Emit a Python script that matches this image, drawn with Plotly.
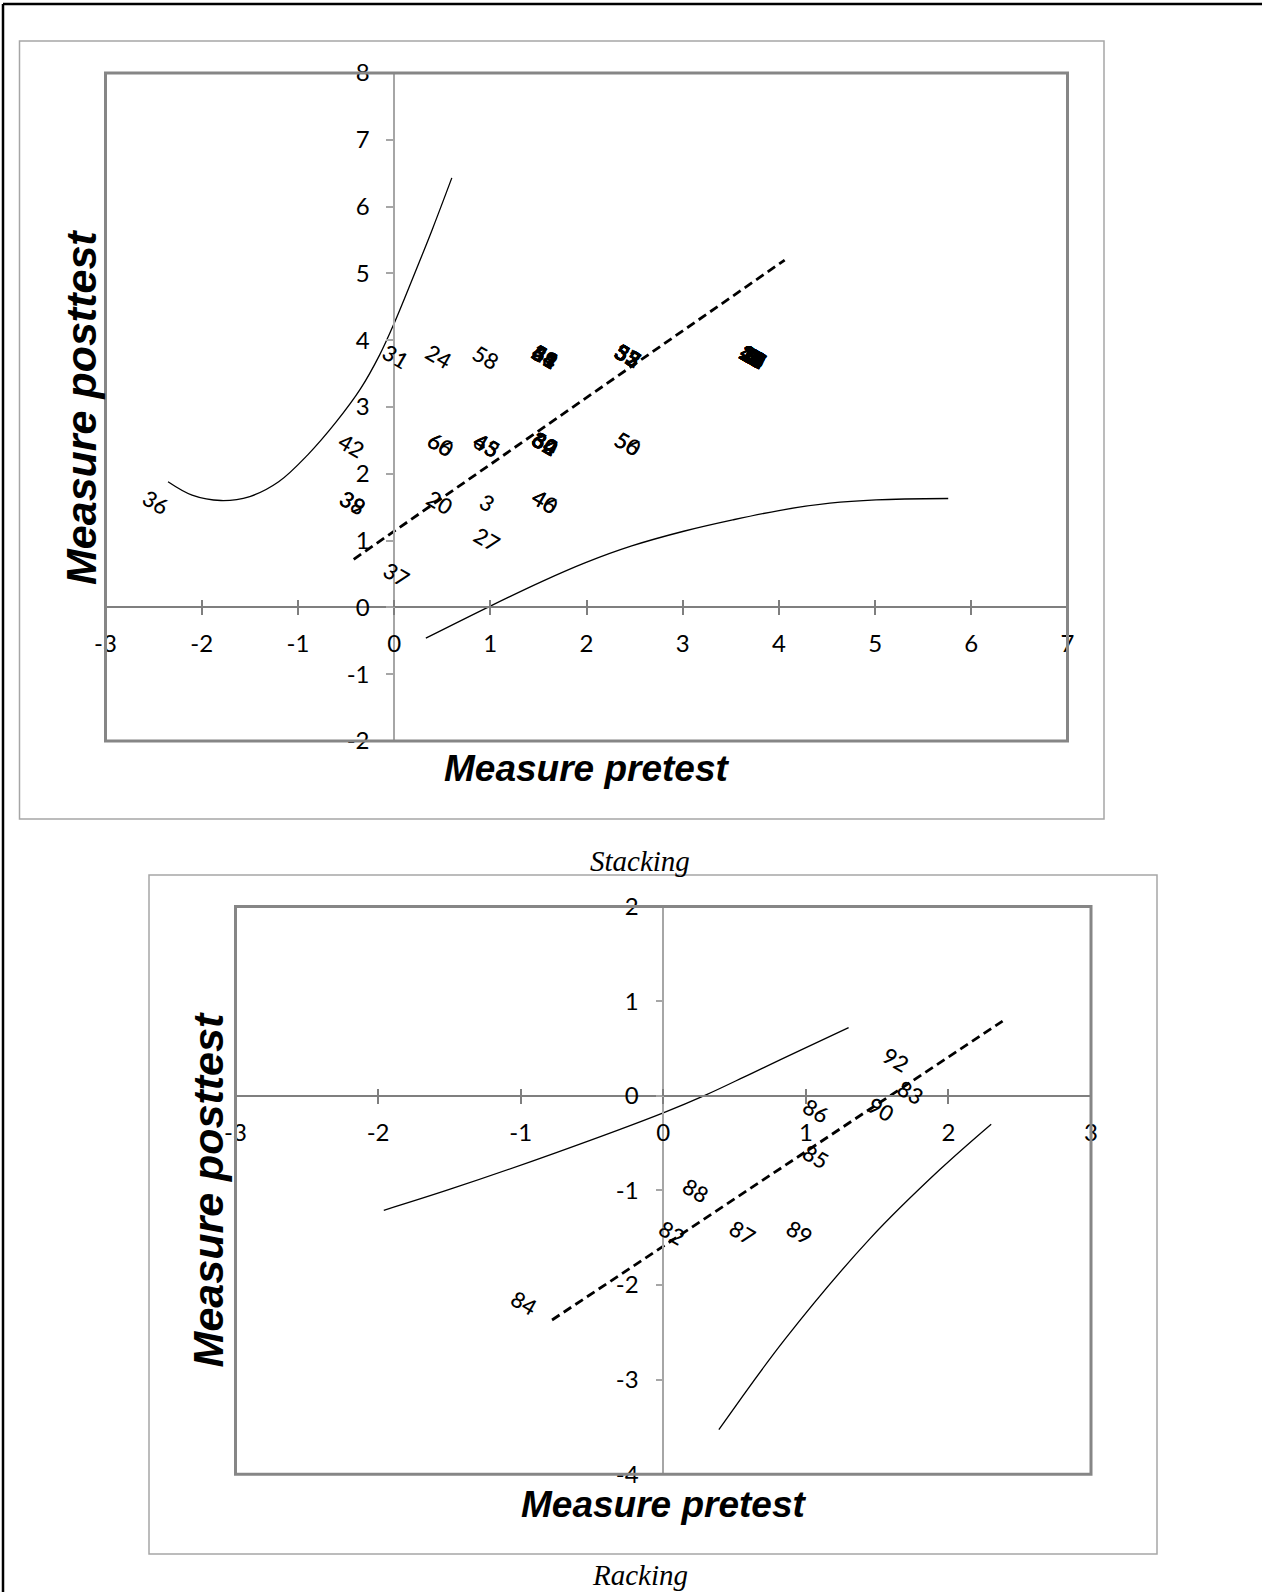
import plotly.graph_objects as go

W, H = 1262, 1592

# ---------------- data: Stacking (top chart) ----------------
stack_x = [-2.47, 0.02, 0.47, 0.96, 1.57, 2.43, 3.73, -0.44, 0.49, 0.97, 1.57, 2.43,
           -0.43, 0.48, 0.97, 1.57, 0.97, 0.03]
stack_y = [1.57, 3.76, 3.76, 3.74, 3.75, 3.77, 3.75, 2.43, 2.44, 2.43, 2.45, 2.45,
           1.57, 1.57, 1.57, 1.58, 1.01, 0.50]
stack_ids = [["36"], ["31"], ["24"], ["58"],
             ["21", "51", "54", "59", "61", "63", "44"],
             ["33", "35", "52", "55", "57", "53"],
             ["10", "11", "12", "13", "14", "15", "16", "17", "18", "19", "22", "23",
              "25", "26", "28", "29", "47", "48", "1", "2", "4", "5", "6", "7", "8", "9"],
             ["42"], ["60", "66"], ["43", "45", "65"],
             ["30", "32", "34", "62", "64"], ["50", "56"],
             ["38", "39"], ["20"], ["3"], ["40", "46"], ["27"], ["37"]]

stack_fit_x = [-0.42, 4.06]
stack_fit_y = [0.72, 5.20]
stack_up_x = [-2.35, -2.10, -1.80, -1.50, -1.20, -0.90, -0.60, -0.35, -0.15, 0.0, 0.20, 0.40, 0.60]
stack_up_y = [1.88, 1.68, 1.60, 1.66, 1.88, 2.28, 2.78, 3.27, 3.78, 4.25, 4.95, 5.67, 6.43]
stack_lo_x = [0.33, 1.00, 1.54, 1.99, 2.47, 3.01, 3.52, 4.00, 4.53, 5.01, 5.76]
stack_lo_y = [-0.46, 0.02, 0.39, 0.67, 0.92, 1.14, 1.31, 1.45, 1.56, 1.61, 1.63]
stack_xticks = [-3, -2, -1, 0, 1, 2, 3, 4, 5, 6, 7]
stack_yticks = [-2, -1, 0, 1, 2, 3, 4, 5, 6, 7, 8]

# ---------------- data: Racking (bottom chart) ----------------
rack_x = [1.63, 1.74, 1.53, 1.07, 1.07, 0.23, 0.06, 0.56, 0.96, -0.98]
rack_y = [0.38, 0.04, -0.15, -0.16, -0.64, -1.00, -1.45, -1.44, -1.44, -2.19]
rack_ids = ["92", "83", "90", "86", "85", "88", "82", "87", "89", "84"]

rack_fit_x = [-0.78, 2.38]
rack_fit_y = [-2.37, 0.79]
rack_up_x = [-1.96, -1.50, -0.75, 0.0, 0.30, 0.61, 0.96, 1.30]
rack_up_y = [-1.21, -0.99, -0.60, -0.18, 0.01, 0.23, 0.48, 0.72]
rack_lo_x = [0.39, 0.85, 1.45, 1.94, 2.30]
rack_lo_y = [-3.53, -2.58, -1.51, -0.78, -0.30]
rack_xticks = [-3, -2, -1, 0, 1, 2, 3]
rack_yticks = [-4, -3, -2, -1, 0, 1, 2]

# ---------------- geometry (pixels) ----------------
TOP = dict(x0=105.5, x1=1067.5, y0=73.0, y1=741.0, xr=[-3, 7], yr=[-2, 8])
BOT = dict(x0=235.5, x1=1091.0, y0=906.6, y1=1474.2, xr=[-3, 3], yr=[-4, 2])


def px_x(p):
    return p / W


def px_y(p):
    return 1 - p / H


def dom(g):
    return [px_x(g["x0"]), px_x(g["x1"])], [px_y(g["y1"]), px_y(g["y0"])]


def zero_pos(g):
    xd, yd = dom(g)
    xz = xd[0] + (0 - g["xr"][0]) / (g["xr"][1] - g["xr"][0]) * (xd[1] - xd[0])
    yz = yd[0] + (0 - g["yr"][0]) / (g["yr"][1] - g["yr"][0]) * (yd[1] - yd[0])
    return xz, yz


fig = go.Figure()

TICKFONT = dict(family="Lato", size=24, color="black")
LBLFONT = dict(family="Lato", size=22, color="black", weight=500)
BLOBFONT = dict(family="Lato", size=22, color="black", weight="bold")
XCOL = "#7f7f7f"
YCOL = "#a6a6a6"

layout = dict(width=W, height=H, margin=dict(l=0, r=0, t=0, b=0, pad=0, autoexpand=False),
              paper_bgcolor="white", plot_bgcolor="white", showlegend=False)

shapes = []
annotations = []

for i, (g, xticks, yticks, xa, ya, xa2) in enumerate([
        (TOP, stack_xticks, stack_yticks, "xaxis", "yaxis", "xaxis3"),
        (BOT, rack_xticks, rack_yticks, "xaxis2", "yaxis2", "xaxis4")]):
    xd, yd = dom(g)
    xz, yz = zero_pos(g)
    layout[xa] = dict(domain=xd, range=g["xr"], anchor="free", position=yz,
                      tickvals=xticks, ticktext=[str(v) for v in xticks],
                      ticks="outside", ticklen=7, tickwidth=1.5,
                      tickcolor=XCOL, showline=True, linecolor=XCOL, linewidth=2,
                      showgrid=False, zeroline=False, tickfont=TICKFONT,
                      ticklabelstandoff=8, automargin=False)
    layout[ya] = dict(domain=yd, range=g["yr"], anchor="free", position=xz,
                      tickvals=yticks, ticktext=[str(v) for v in yticks],
                      ticks="outside", ticklen=7, tickwidth=1.5,
                      tickcolor=YCOL, showline=True, linecolor=YCOL, linewidth=1.5,
                      showgrid=False, zeroline=False, tickfont=TICKFONT,
                      ticklabelstandoff=12, automargin=False)
    layout[xa2] = dict(domain=xd, range=g["xr"], anchor="free", position=yz,
                       overlaying="x" if i == 0 else "x2",
                       tickvals=xticks, ticks="inside", ticklen=7, tickwidth=1.5,
                       tickcolor=XCOL, showline=False, showgrid=False,
                       zeroline=False, showticklabels=False, automargin=False)
    shapes.append(dict(type="rect", xref="paper", yref="paper",
                       x0=xd[0], x1=xd[1], y0=yd[0], y1=yd[1],
                       line=dict(color="#868686", width=3), layer="above"))

# outer chart boxes
shapes.append(dict(type="rect", xref="paper", yref="paper",
                   x0=px_x(19.5), x1=px_x(1104), y0=px_y(819), y1=px_y(41),
                   line=dict(color="#a6a6a6", width=1.5)))
shapes.append(dict(type="rect", xref="paper", yref="paper",
                   x0=px_x(149), x1=px_x(1157), y0=px_y(1554), y1=px_y(875),
                   line=dict(color="#a6a6a6", width=1.5)))
# page border (top and left)
shapes.append(dict(type="line", xref="paper", yref="paper",
                   x0=px_x(3), x1=1, y0=px_y(4), y1=px_y(4),
                   line=dict(color="black", width=2.5)))
shapes.append(dict(type="line", xref="paper", yref="paper",
                   x0=px_x(3), x1=px_x(3), y0=0, y1=px_y(4),
                   line=dict(color="black", width=2.5)))

# ---------------- traces ----------------
for xs, ys, xa, ya in [(stack_up_x, stack_up_y, "x", "y"), (stack_lo_x, stack_lo_y, "x", "y"),
                       (rack_up_x, rack_up_y, "x2", "y2"), (rack_lo_x, rack_lo_y, "x2", "y2")]:
    fig.add_trace(go.Scatter(x=xs, y=ys, mode="lines", xaxis=xa, yaxis=ya,
                             line=dict(color="black", width=1.3, shape="spline", smoothing=1.0),
                             hoverinfo="skip"))
for xs, ys, xa, ya in [(stack_fit_x, stack_fit_y, "x", "y"), (rack_fit_x, rack_fit_y, "x2", "y2")]:
    fig.add_trace(go.Scatter(x=xs, y=ys, mode="lines", xaxis=xa, yaxis=ya,
                             line=dict(color="black", width=2.8, dash="9px,5px"),
                             hoverinfo="skip"))
# empty traces so the overlay tick axes render
fig.add_trace(go.Scatter(x=[None], y=[None], xaxis="x3", yaxis="y", mode="markers"))
fig.add_trace(go.Scatter(x=[None], y=[None], xaxis="x4", yaxis="y2", mode="markers"))

# data labels (rotated)
for x, y, ids in zip(stack_x, stack_y, stack_ids):
    f = BLOBFONT if len(ids) >= 5 else LBLFONT
    for t in ids:
        annotations.append(dict(x=x, y=y, xref="x", yref="y", text=t, showarrow=False,
                                textangle=30, font=f, xanchor="center", yanchor="middle"))
for x, y, t in zip(rack_x, rack_y, rack_ids):
    annotations.append(dict(x=x, y=y, xref="x2", yref="y2", text=t, showarrow=False,
                            textangle=30, font=LBLFONT, xanchor="center", yanchor="middle"))

# axis titles and captions
TFONT_X = dict(family="Liberation Sans", size=37, color="black", weight="bold", style="italic")
TFONT_Y = dict(family="Liberation Sans", size=43, color="black", weight="bold", style="italic")
CAPFONT = dict(family="Liberation Serif", size=29, color="black", style="italic")
for g, ty in [(TOP, 768.5), (BOT, 1504)]:
    annotations.append(dict(x=px_x((g["x0"] + g["x1"]) / 2), y=px_y(ty), xref="paper", yref="paper",
                            text="Measure pretest", showarrow=False, font=TFONT_X,
                            xanchor="center", yanchor="middle"))
for g, tx in [(TOP, 81), (BOT, 208)]:
    annotations.append(dict(x=px_x(tx), y=px_y((g["y0"] + g["y1"]) / 2), xref="paper", yref="paper",
                            text="Measure posttest", showarrow=False, font=TFONT_Y, textangle=-90,
                            xanchor="center", yanchor="middle"))
annotations.append(dict(x=px_x(640), y=px_y(861), xref="paper", yref="paper", text="Stacking",
                        showarrow=False, font=CAPFONT, xanchor="center", yanchor="middle"))
annotations.append(dict(x=px_x(640), y=px_y(1575), xref="paper", yref="paper", text="Racking",
                        showarrow=False, font=CAPFONT, xanchor="center", yanchor="middle"))

layout["shapes"] = shapes
layout["annotations"] = annotations
fig.update_layout(**layout)
fig.write_html("out.html")
